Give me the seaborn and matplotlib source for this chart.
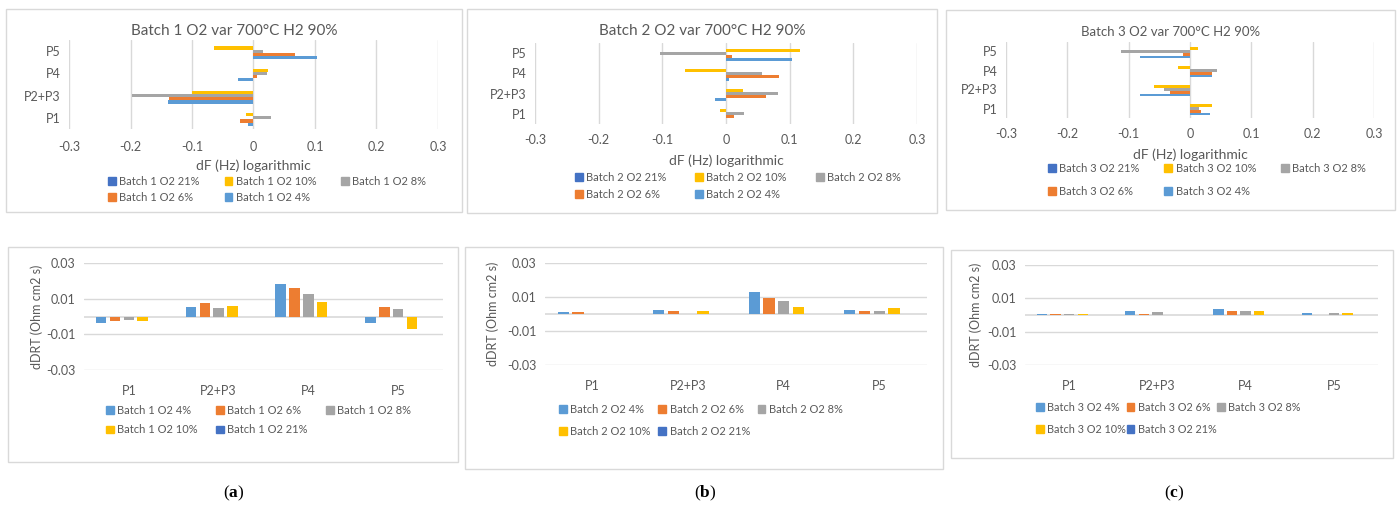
import pandas as pd
import numpy as np
import seaborn as sns
import matplotlib.pyplot as plt
from matplotlib.patches import Patch, Rectangle

# categories / series
cats = ['P1', 'P2+P3', 'P4', 'P5']
o2_levels = ['4%', '6%', '8%', '10%', '21%']
colors = {'4%': '#5B9BD5', '6%': '#ED7D31', '8%': '#A5A5A5', '10%': '#FFC000', '21%': '#4472C4'}

# dF (Hz) logarithmic, values per category P1, P2+P3, P4, P5
df_batch1 = {'4%': [-0.009, -0.139, -0.026, 0.104],
             '6%': [-0.022, -0.137, 0.005, 0.068],
             '8%': [0.029, -0.197, 0.022, 0.015],
             '10%': [-0.0125, -0.100, 0.024, -0.064],
             '21%': [0.0, 0.0, 0.0, 0.0]}
df_batch2 = {'4%': [0.0, -0.018, 0.005, 0.104],
             '6%': [0.012, 0.063, 0.084, 0.009],
             '8%': [0.029, 0.082, 0.056, -0.104],
             '10%': [-0.009, 0.026, -0.065, 0.116],
             '21%': [0.0, 0.0, 0.0, 0.0]}
df_batch3 = {'4%': [0.033, -0.082, 0.036, -0.082],
             '6%': [0.018, -0.032, 0.036, -0.011],
             '8%': [0.015, -0.043, 0.044, -0.112],
             '10%': [0.036, -0.059, -0.019, 0.013],
             '21%': [0.0, 0.0, 0.0, 0.0]}

# dDRT (Ohm cm2 s)
drt_batch1 = {'4%': [-0.0034, 0.0051, 0.0184, -0.0038],
              '6%': [-0.0023, 0.0073, 0.0160, 0.0051],
              '8%': [-0.0019, 0.0047, 0.0126, 0.0041],
              '10%': [-0.0028, 0.0058, 0.0084, -0.0068],
              '21%': [0.0, 0.0, 0.0, 0.0]}
drt_batch2 = {'4%': [0.0010, 0.0025, 0.0127, 0.0025],
              '6%': [0.0010, 0.0020, 0.0096, 0.0020],
              '8%': [0.0, 0.0, 0.0075, 0.0020],
              '10%': [0.0, 0.0015, 0.0040, 0.0033],
              '21%': [0.0, 0.0, 0.0, 0.0]}
drt_batch3 = {'4%': [0.0008, 0.0026, 0.0036, 0.0014],
              '6%': [0.0008, 0.0008, 0.0026, 0.0],
              '8%': [0.0008, 0.0018, 0.0022, 0.0010],
              '10%': [0.0008, 0.0, 0.0026, 0.0012],
              '21%': [0.0, 0.0, 0.0, 0.0]}

top_ticks = [-0.3, -0.2, -0.1, 0, 0.1, 0.2, 0.3]
top_tick_labels = ['-0.3', '-0.2', '-0.1', '0', '0.1', '0.2', '0.3']
bot_ticks = [-0.03, -0.01, 0.01, 0.03]
bot_tick_labels = ['-0.03', '-0.01', '0.01', '0.03']

sns.set_theme(style='white')
plt.rcParams['font.family'] = ['Lato', 'DejaVu Sans']
TXT = '#595959'
GRID = '#D9D9D9'

W, H = 1400, 505
fig = plt.figure(figsize=(W / 100, H / 100), dpi=100)


def frac(x0, y0, x1, y1):
    return [x0 / W, 1 - y1 / H, (x1 - x0) / W, (y1 - y0) / H]


def ftext(x, y, s, **kw):
    fig.text(x / W, 1 - y / H, s, ha=kw.pop('ha', 'center'), va=kw.pop('va', 'center'), color=kw.pop('color', TXT), **kw)


def frame(x0, y0, x1, y1):
    fig.add_artist(Rectangle((x0 / W, 1 - y1 / H), (x1 - x0) / W, (y1 - y0) / H,
                             transform=fig.transFigure, fill=False, ec=GRID, lw=1))


def to_long(d):
    rows = []
    for lvl in o2_levels:
        for c, v in zip(cats, d[lvl]):
            rows.append((c, lvl, v))
    return pd.DataFrame(rows, columns=['cat', 'O2', 'val'])


def add_legend(ax, batch, order, x, y, fs, colsp, rowsp):
    handles = [Patch(color=colors[l]) for l in order]
    labels = ['Batch %d O2 %s' % (batch, l) for l in order]
    # matplotlib fills legends column-wise; reorder so rows read left to right
    idx = [0, 3, 1, 4, 2]
    leg = ax.legend([handles[i] for i in idx], [labels[i] for i in idx], ncol=3,
                    loc='upper left', bbox_to_anchor=(x / W, 1 - y / H), bbox_transform=fig.transFigure,
                    frameon=False, fontsize=fs, handlelength=0.7, handleheight=0.7,
                    handletextpad=0.3, columnspacing=colsp, labelspacing=rowsp,
                    borderaxespad=0, borderpad=0)
    for t in leg.get_texts():
        t.set_color(TXT)


def top_chart(d, batch, box, rect, title, tsize, tick_y, lab_y, leg_xy, colsp, rowsp):
    frame(*box)
    ax = fig.add_axes(frac(*rect))
    sns.barplot(data=to_long(d), x='val', y='cat', hue='O2', orient='h',
                order=cats[::-1], hue_order=['21%', '10%', '8%', '6%', '4%'],
                palette=colors, saturation=1, width=0.73, linewidth=0,
                errorbar=None, legend=False, ax=ax)
    ax.set_xlim(-0.3, 0.3)
    ax.set_xticks(top_ticks)
    ax.set_xticklabels([])
    for v, s in zip(top_ticks, top_tick_labels):
        ax.axvline(v, color=GRID, lw=1, zorder=0)
        ftext(rect[0] + (v + 0.3) / 0.6 * (rect[2] - rect[0]), tick_y, s, fontsize=9)
    ax.tick_params(axis='both', length=0)
    ax.tick_params(axis='y', labelsize=9, labelcolor=TXT, pad=6)
    ax.set_xlabel('')
    ax.set_ylabel('')
    for sp in ax.spines.values():
        sp.set_visible(False)
    ftext((box[0] + box[2]) / 2, box[1] + 22, title, fontsize=tsize)
    ftext((rect[0] + rect[2]) / 2, lab_y, 'dF (Hz) logarithmic', fontsize=10)
    add_legend(ax, batch, ['21%', '10%', '8%', '6%', '4%'], leg_xy[0], leg_xy[1], 8, colsp, rowsp)


def bottom_chart(d, batch, box, rect, ylab_x, leg_xy, fs, colsp, rowsp):
    frame(*box)
    ax = fig.add_axes(frac(*rect))
    sns.barplot(data=to_long(d), x='cat', y='val', hue='O2',
                order=cats, hue_order=o2_levels, palette=colors, saturation=1,
                width=0.77, gap=0.24, linewidth=0, errorbar=None, legend=False, ax=ax)
    ax.set_ylim(-0.03, 0.03)
    ax.set_yticks(bot_ticks)
    ax.set_yticklabels(bot_tick_labels)
    for v in bot_ticks:
        ax.axhline(v, color=GRID, lw=1, zorder=0)
    ax.axhline(0, color=GRID, lw=1.2, zorder=0)
    ax.tick_params(axis='both', length=0, labelsize=9, labelcolor=TXT)
    ax.tick_params(axis='x', pad=11)
    ax.tick_params(axis='y', pad=6)
    ax.set_xlabel('')
    ax.set_ylabel('')
    for sp in ax.spines.values():
        sp.set_visible(False)
    ftext(ylab_x, (rect[1] + rect[3]) / 2, 'dDRT (Ohm cm2 s)', fontsize=9, rotation=90)
    add_legend(ax, batch, o2_levels, leg_xy[0], leg_xy[1], fs, colsp, rowsp)


top_chart(df_batch1, 1, (6, 9, 462, 212), (69, 40, 438, 129), 'Batch 1 O2 var 700°C H2 90%', 11, 147, 166,
          (108, 176), 2.25, 0.45)
top_chart(df_batch2, 2, (467, 9, 937, 213), (535, 43, 917, 124), 'Batch 2 O2 var 700°C H2 90%', 11, 140, 161,
          (575, 172), 2.6, 0.5)
top_chart(df_batch3, 3, (946, 10, 1395, 210), (1006, 42, 1374, 118), 'Batch 3 O2 var 700°C H2 90%', 9.5, 134, 155,
          (1048, 163), 2.25, 1.1)

bottom_chart(drt_batch1, 1, (8, 247, 458, 462), (84, 263, 443, 370), 37, (106, 405), 8, 1.65, 0.75)
bottom_chart(drt_batch2, 2, (465, 247, 943, 469), (545, 263, 927, 365), 493, (559, 404), 8, 0.7, 0.95)
bottom_chart(drt_batch3, 3, (951, 250, 1393, 458), (1025, 265, 1378, 365), 976, (1036, 402), 7.8, 0.1, 1.0)

plt.rcParams['mathtext.fontset'] = 'custom'
plt.rcParams['mathtext.rm'] = 'Liberation Serif'
plt.rcParams['mathtext.bf'] = 'Liberation Serif:bold'
for x, s in [(234, 'a'), (705, 'b'), (1174, 'c')]:
    ftext(x, 493, r'($\mathbf{%s}$)' % s, fontsize=12.5, color='black', family='Liberation Serif')

fig.savefig('out.png', dpi=100)
